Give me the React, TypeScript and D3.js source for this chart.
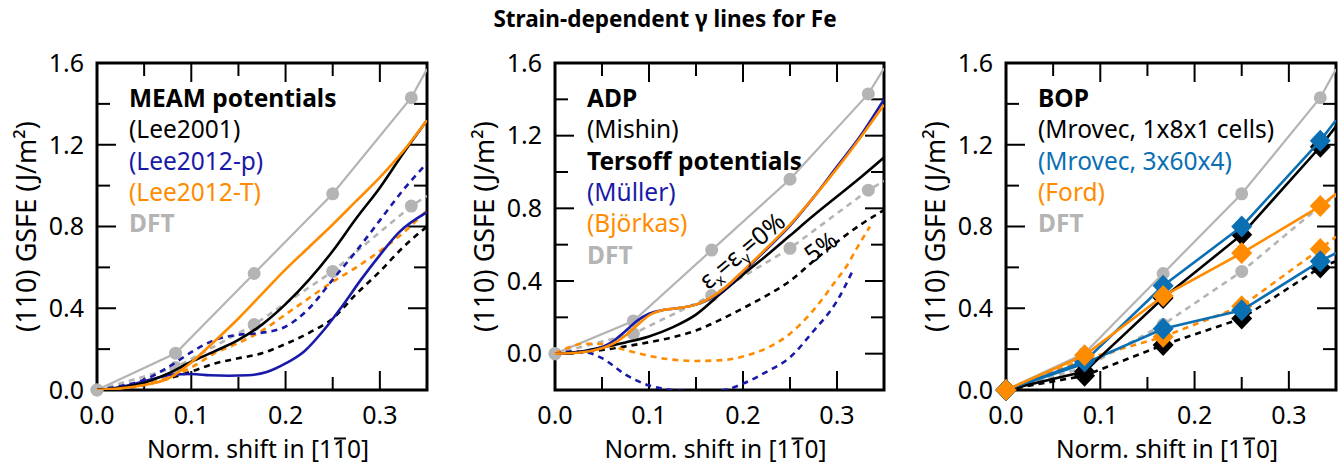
import React, { useLayoutEffect, useRef, useState } from "react";
import * as d3 from "d3";

const W = 1342;
const H = 467;
const FONT = "'Noto Sans', 'Open Sans', sans-serif";

const GRAY = "#b4b4b4";
const NAVY = "#1a1aa8";
const ORANGE = "#ff8c00";
const STEEL = "#0b6fb3";

// ---------- shared x-grid for smooth curves ----------
const gridX = [0, 0.025, 0.05, 0.075, 0.1, 0.125, 0.15, 0.175, 0.2, 0.225, 0.25, 0.275, 0.3, 0.325, 0.35];

// ---------- DFT reference points ----------
const dftX = [0, 1 / 12, 1 / 6, 1 / 4, 1 / 3, 0.35];
const dftUnstrained = [0, 0.18, 0.57, 0.96, 1.43, 1.57];
const dftStrained = [0, 0.11, 0.32, 0.58, 0.9, 0.95];

// ---------- Panel 1: MEAM ----------
const lee2001 = [0, 0.012, 0.035, 0.08, 0.138, 0.19, 0.245, 0.32, 0.42, 0.54, 0.68, 0.84, 0.99, 1.16, 1.32];
const lee2001Str = [0, 0.008, 0.025, 0.055, 0.09, 0.13, 0.155, 0.18, 0.225, 0.28, 0.35, 0.47, 0.58, 0.7, 0.8];
const lee2012pX = [0, 0.02, 0.04, 0.06, 0.08, 0.1, 0.12, 0.14, 0.16, 0.18, 0.2, 0.22, 0.24, 0.26, 0.28, 0.3, 0.32, 0.35];
const lee2012p = [0, 0.01, 0.03, 0.055, 0.075, 0.078, 0.072, 0.07, 0.072, 0.088, 0.13, 0.19, 0.29, 0.41, 0.54, 0.66, 0.77, 0.87];
const lee2012pStr = [0, 0.02, 0.05, 0.11, 0.185, 0.245, 0.27, 0.28, 0.31, 0.4, 0.54, 0.68, 0.83, 0.98, 1.11];
const lee2012T = [0, 0.008, 0.024, 0.055, 0.135, 0.24, 0.35, 0.47, 0.59, 0.7, 0.81, 0.925, 1.04, 1.17, 1.32];
const lee2012TStr = [0, 0.01, 0.025, 0.06, 0.11, 0.18, 0.23, 0.29, 0.37, 0.45, 0.53, 0.6, 0.68, 0.77, 0.88];

// ---------- Panel 2: ADP / Tersoff ----------
const mishin = [0, 0.01, 0.035, 0.062, 0.095, 0.145, 0.215, 0.325, 0.435, 0.54, 0.65, 0.76, 0.865, 0.97, 1.08];
const mishinStr = [0, 0.006, 0.02, 0.04, 0.063, 0.09, 0.127, 0.185, 0.25, 0.32, 0.4, 0.51, 0.615, 0.71, 0.79];
const tersoffX = [0, 0.025, 0.05, 0.062, 0.075, 0.087, 0.1, 0.115, 0.13, 0.15, 0.175, 0.2, 0.225, 0.25, 0.275, 0.3, 0.325, 0.35];
const muller = [0, 0.006, 0.035, 0.07, 0.125, 0.18, 0.22, 0.24, 0.25, 0.27, 0.335, 0.45, 0.575, 0.705, 0.86, 1.03, 1.2, 1.4];
const bjorkas = [0, 0.005, 0.03, 0.055, 0.1, 0.155, 0.21, 0.24, 0.25, 0.27, 0.34, 0.455, 0.58, 0.71, 0.86, 1.02, 1.19, 1.37];
const mullerStrX = [0, 0.02, 0.035, 0.05, 0.075, 0.1, 0.125, 0.155, 0.18, 0.2, 0.225, 0.25, 0.275, 0.3, 0.317];
const mullerStr = [0, 0.012, 0.005, -0.025, -0.115, -0.175, -0.2, -0.21, -0.2, -0.165, -0.1, -0.02, 0.125, 0.29, 0.46];
const bjorkasStrX = [0, 0.015, 0.03, 0.045, 0.06, 0.075, 0.09, 0.12, 0.15, 0.18, 0.2, 0.225, 0.25, 0.275, 0.3, 0.31, 0.32, 0.335];
const bjorkasStr = [0, 0.035, 0.055, 0.055, 0.04, 0.02, 0.0, -0.03, -0.04, -0.035, -0.015, 0.03, 0.11, 0.24, 0.41, 0.48, 0.57, 0.7];

// ---------- Panel 3: BOP ----------
const bopX = [0, 1 / 12, 1 / 6, 1 / 4, 1 / 3, 0.35];
const mrovec181 = [0, 0.09, 0.45, 0.76, 1.19, 1.29];
const mrovec3604 = [0, 0.14, 0.51, 0.8, 1.22, 1.32];
const ford = [0, 0.17, 0.46, 0.67, 0.9, 0.96];
const mrovec181Str = [0, 0.07, 0.22, 0.35, 0.6, 0.63];
const mrovec3604Str = [0, 0.13, 0.3, 0.39, 0.63, 0.67];
const fordStr = [0, 0.15, 0.26, 0.41, 0.69, 0.75];

// ---------- axis labels ----------
const xTickLabels = [0.0, 0.1, 0.2, 0.3];
const yTickLabels = [0.0, 0.4, 0.8, 1.2, 1.6];
const title = "Strain-dependent \u03b3 lines for Fe";
const xTitle = "Norm. shift in [110]";
const xTitleBarIndex = 17; // the second "1" carries an overbar
const yTitle = "(110) GSFE (J/m²)";

type Series = {
  xs: number[];
  ys: number[];
  color: string;
  dash?: boolean;
  smooth?: boolean;
  marker?: "circle" | "diamond";
  width?: number;
};

type LegendItem = { text: string; color: string; bold?: boolean };

type PanelProps = {
  id: string;
  x0: number;
  x1: number;
  yDomain: [number, number];
  series: Series[];
  legend: LegendItem[];
  children?: (xs: d3.ScaleLinear<number, number>, ys: d3.ScaleLinear<number, number>) => React.ReactNode;
};

const TOP = 63;
const BOTTOM = 390;

function XTitle({ cx }: { cx: number }) {
  const ref = useRef<SVGTextElement>(null);
  const [bar, setBar] = useState<[number, number, number] | null>(null);
  useLayoutEffect(() => {
    const t = ref.current;
    if (!t) return;
    try {
      const s = t.getStartPositionOfChar(xTitleBarIndex);
      const e = t.getEndPositionOfChar(xTitleBarIndex);
      setBar([s.x, e.x, s.y - 19.5]);
    } catch (err) {
      setBar(null);
    }
  }, [cx]);
  return (
    <g>
      <text ref={ref} x={cx} y={458} textAnchor="middle" fontSize={24.5} fontFamily={FONT}>
        {xTitle}
      </text>
      {bar ? <line x1={bar[0] + 1} x2={bar[1] - 1} y1={bar[2]} y2={bar[2]} stroke="#000" strokeWidth={2} /> : null}
    </g>
  );
}

function Panel({ id, x0, x1, yDomain, series, legend, children }: PanelProps) {
  const xs = d3.scaleLinear().domain([0, 0.35]).range([x0, x1]);
  const ys = d3.scaleLinear().domain(yDomain).range([BOTTOM, TOP]);
  const fmt = d3.format(".1f");
  const xTicks = d3.range(0.05, 0.349, 0.05);
  const yTicks = d3.range(yDomain[0] + 0.2, yDomain[1] - 0.01, 0.2);
  const isMajorX = (v: number) => xTickLabels.some((t) => Math.abs(t - v) < 1e-6);
  const isMajorY = (v: number) => yTickLabels.some((t) => Math.abs(t - v) < 1e-6);
  const MAJ = 19;
  const MIN = 13;

  const lineGen = (s: Series) =>
    d3
      .line<number>()
      .x((_, i) => xs(s.xs[i]))
      .y((d) => ys(d))
      .curve(s.smooth ? d3.curveMonotoneX : d3.curveLinear)(s.ys) || "";

  const cx = (x0 + x1) / 2;
  const cy = (TOP + BOTTOM) / 2;

  return (
    <g>
      <defs>
        <clipPath id={id}>
          <rect x={x0} y={TOP} width={x1 - x0} height={BOTTOM - TOP} />
        </clipPath>
      </defs>
      {legend.map((l, i) => (
        <text
          key={i}
          x={x0 + 32}
          y={107 + i * 31.3}
          fill={l.color}
          fontWeight={l.bold ? 700 : 400}
          fontSize={24.5}
          fontFamily={FONT}
        >
          {l.text}
        </text>
      ))}
      {xTicks.map((v, i) => {
        const L = isMajorX(v) ? MAJ : MIN;
        return (
          <g key={"xt" + i} stroke="#000" strokeWidth={2}>
            <line x1={xs(v)} x2={xs(v)} y1={BOTTOM} y2={BOTTOM - L} />
            <line x1={xs(v)} x2={xs(v)} y1={TOP} y2={TOP + L} />
          </g>
        );
      })}
      {yTicks.map((v, i) => {
        const L = isMajorY(v) ? MAJ : MIN;
        return (
          <g key={"yt" + i} stroke="#000" strokeWidth={2}>
            <line x1={x0} x2={x0 + L} y1={ys(v)} y2={ys(v)} />
            <line x1={x1} x2={x1 - L} y1={ys(v)} y2={ys(v)} />
          </g>
        );
      })}
      {xTickLabels.map((v, i) => (
        <text key={"xl" + i} x={xs(v)} y={424} textAnchor="middle" fontSize={25} fontFamily={FONT}>
          {fmt(v)}
        </text>
      ))}
      {yTickLabels.map((v, i) => (
        <text key={"yl" + i} x={x0 - 13} y={ys(v)} dy="0.35em" textAnchor="end" fontSize={25} fontFamily={FONT}>
          {fmt(v)}
        </text>
      ))}
      <XTitle cx={cx - 4} />
      <text
        transform={`translate(${x0 - 61},${cy}) rotate(-90)`}
        textAnchor="middle"
        fontSize={27}
        fontFamily={FONT}
      >
        {yTitle}
      </text>
      <rect x={x0} y={TOP} width={x1 - x0} height={BOTTOM - TOP} fill="none" stroke="#000" strokeWidth={3} />
      {series.map((s, i) => (
        <g key={"s" + i}>
          <path
            d={lineGen(s)}
            fill="none"
            stroke={s.color}
            strokeWidth={s.width ?? 2.6}
            strokeDasharray={s.dash ? "6,5" : undefined}
            clipPath={`url(#${id})`}
          />
          {s.marker
            ? s.xs.map((xv, j) => {
                if (xv > 1 / 3 + 1e-6) return null;
                const px = xs(xv);
                const py = ys(s.ys[j]);
                if (s.marker === "circle")
                  return <circle key={`m${i}-${j}`} cx={px} cy={py} r={6.5} fill={s.color} />;
                return (
                  <path
                    key={`m${i}-${j}`}
                    d={`M${px},${py - 11}L${px + 10.5},${py}L${px},${py + 11}L${px - 10.5},${py}Z`}
                    fill={s.color}
                  />
                );
              })
            : null}
        </g>
      ))}
      {children ? children(xs, ys) : null}
    </g>
  );
}

export default function App() {
  const dftSeries: Series[] = [
    { xs: dftX, ys: dftUnstrained, color: GRAY, marker: "circle", width: 2.2 },
    { xs: dftX, ys: dftStrained, color: GRAY, marker: "circle", dash: true, width: 2.6 },
  ];

  const p1: Series[] = [
    ...dftSeries,
    { xs: gridX, ys: lee2001Str, color: "#000", dash: true, smooth: true },
    { xs: gridX, ys: lee2012TStr, color: ORANGE, dash: true, smooth: true },
    { xs: gridX, ys: lee2012pStr, color: NAVY, dash: true, smooth: true },
    { xs: lee2012pX, ys: lee2012p, color: NAVY, smooth: true },
    { xs: gridX, ys: lee2001, color: "#000", smooth: true },
    { xs: gridX, ys: lee2012T, color: ORANGE, smooth: true },
  ];

  const p2: Series[] = [
    ...dftSeries,
    { xs: gridX, ys: mishinStr, color: "#000", dash: true, smooth: true },
    { xs: bjorkasStrX, ys: bjorkasStr, color: ORANGE, dash: true, smooth: true },
    { xs: mullerStrX, ys: mullerStr, color: NAVY, dash: true, smooth: true },
    { xs: gridX, ys: mishin, color: "#000", smooth: true },
    { xs: tersoffX, ys: muller, color: NAVY, smooth: true },
    { xs: tersoffX, ys: bjorkas, color: ORANGE, smooth: true },
  ];

  const p3: Series[] = [
    ...dftSeries,
    { xs: bopX, ys: mrovec181Str, color: "#000", dash: true, marker: "diamond" },
    { xs: bopX, ys: fordStr, color: ORANGE, dash: true, marker: "diamond" },
    { xs: bopX, ys: mrovec3604Str, color: STEEL, marker: "diamond" },
    { xs: bopX, ys: mrovec181, color: "#000", marker: "diamond" },
    { xs: bopX, ys: mrovec3604, color: STEEL, marker: "diamond" },
    { xs: bopX, ys: ford, color: ORANGE, marker: "diamond" },
  ];

  return (
    <div style={{ position: "absolute", left: 0, top: 0 }}>
      <svg width={W} height={H} viewBox={`0 0 ${W} ${H}`} style={{ display: "block", background: "#fff" }}>
        <text x={665} y={27} textAnchor="middle" fontSize={22.5} fontWeight={700} fontFamily={FONT}>
          {title}
        </text>
        <Panel
          id="c1"
          x0={97}
          x1={427}
          yDomain={[0, 1.6]}
          series={p1}
          legend={[
            { text: "MEAM potentials", color: "#000", bold: true },
            { text: "(Lee2001)", color: "#000" },
            { text: "(Lee2012-p)", color: NAVY },
            { text: "(Lee2012-T)", color: ORANGE },
            { text: "DFT", color: GRAY, bold: true },
          ]}
        />
        <Panel
          id="c2"
          x0={555}
          x1={884}
          yDomain={[-0.2, 1.6]}
          series={p2}
          legend={[
            { text: "ADP", color: "#000", bold: true },
            { text: "(Mishin)", color: "#000" },
            { text: "Tersoff potentials", color: "#000", bold: true },
            { text: "(Müller)", color: NAVY },
            { text: "(Björkas)", color: ORANGE },
            { text: "DFT", color: GRAY, bold: true },
          ]}
        >
          {(xs, ys) => (
            <g fontFamily={FONT} fill="#000">
              <text transform={`translate(${xs(0.205)},${ys(0.53)}) rotate(-40)`} textAnchor="middle" fontSize={25}>
                ε<tspan fontSize={15} dy={5}>x</tspan>
                <tspan dy={-5}>=ε</tspan>
                <tspan fontSize={15} dy={5}>y</tspan>
                <tspan dy={-5}>=0%</tspan>
              </text>
              <text transform={`translate(${xs(0.288)},${ys(0.55)}) rotate(-36)`} textAnchor="middle" fontSize={24}>
                5%
              </text>
            </g>
          )}
        </Panel>
        <Panel
          id="c3"
          x0={1006}
          x1={1336}
          yDomain={[0, 1.6]}
          series={p3}
          legend={[
            { text: "BOP", color: "#000", bold: true },
            { text: "(Mrovec, 1x8x1 cells)", color: "#000" },
            { text: "(Mrovec, 3x60x4)", color: STEEL },
            { text: "(Ford)", color: ORANGE },
            { text: "DFT", color: GRAY, bold: true },
          ]}
        />
      </svg>
    </div>
  );
}
